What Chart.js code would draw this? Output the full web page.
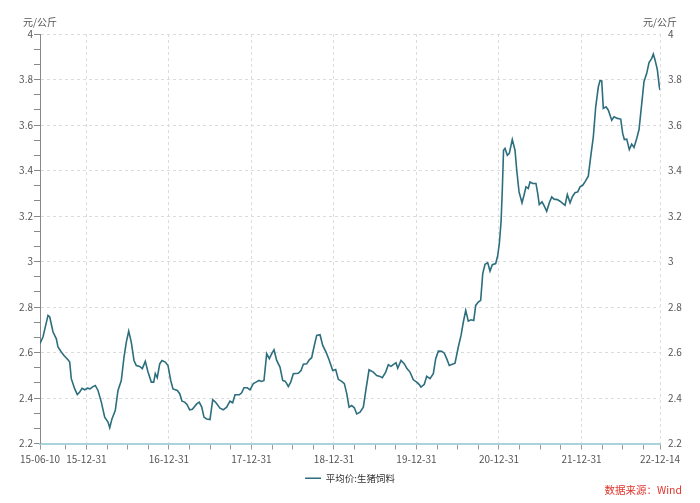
<!DOCTYPE html>
<html>
<head>
<meta charset="utf-8">
<script src="https://cdn.jsdelivr.net/npm/chart.js@4.4.0/dist/chart.umd.min.js"></script>
<style>
  html, body { margin: 0; padding: 0; background: #fff; }
</style>
</head>
<body>
<canvas id="chart" width="700" height="503"></canvas>
<script>
// time positions as fractional years
const timeYears = [
  2015.438, 2015.474, 2015.535, 2015.556, 2015.596, 2015.636, 2015.656, 2015.696, 2015.729, 2015.777,
  2015.798, 2015.817, 2015.859, 2015.890, 2015.919, 2015.947, 2015.980, 2016.011, 2016.044, 2016.080,
  2016.108, 2016.141, 2016.181, 2016.222, 2016.262, 2016.283, 2016.310, 2016.350, 2016.383, 2016.423,
  2016.456, 2016.484, 2016.513, 2016.544, 2016.577, 2016.605, 2016.646, 2016.678, 2016.714, 2016.747,
  2016.787, 2016.816, 2016.835, 2016.859, 2016.889, 2016.916, 2016.956, 2016.989, 2017.022, 2017.050,
  2017.102, 2017.131, 2017.159, 2017.192, 2017.219, 2017.252, 2017.284, 2017.337, 2017.368, 2017.398,
  2017.425, 2017.458, 2017.498, 2017.531, 2017.571, 2017.619, 2017.659, 2017.700, 2017.740, 2017.773,
  2017.801, 2017.853, 2017.882, 2017.910, 2017.950, 2017.983, 2018.023, 2018.056, 2018.092, 2018.125,
  2018.152, 2018.185, 2018.217, 2018.246, 2018.274, 2018.306, 2018.346, 2018.379, 2018.407, 2018.428,
  2018.447, 2018.476, 2018.508, 2018.568, 2018.601, 2018.629, 2018.670, 2018.701, 2018.730, 2018.758,
  2018.791, 2018.831, 2018.864, 2018.904, 2018.944, 2018.985, 2019.021, 2019.053, 2019.094, 2019.126,
  2019.155, 2019.183, 2019.215, 2019.247, 2019.276, 2019.316, 2019.356, 2019.389, 2019.425, 2019.477,
  2019.518, 2019.558, 2019.586, 2019.627, 2019.659, 2019.691, 2019.731, 2019.752, 2019.773, 2019.813,
  2019.853, 2019.885, 2019.922, 2019.962, 2020.003, 2020.031, 2020.055, 2020.095, 2020.124, 2020.164,
  2020.204, 2020.233, 2020.265, 2020.306, 2020.337, 2020.366, 2020.398, 2020.434, 2020.467, 2020.507,
  2020.540, 2020.568, 2020.597, 2020.628, 2020.661, 2020.694, 2020.718, 2020.749, 2020.778, 2020.803,
  2020.831, 2020.863, 2020.891, 2020.919, 2020.960, 2020.985, 2021.004, 2021.025, 2021.040, 2021.055,
  2021.073, 2021.101, 2021.125, 2021.161, 2021.194, 2021.215, 2021.243, 2021.279, 2021.303, 2021.327,
  2021.355, 2021.376, 2021.408, 2021.448, 2021.469, 2021.488, 2021.521, 2021.545, 2021.578, 2021.610,
  2021.639, 2021.667, 2021.707, 2021.739, 2021.772, 2021.800, 2021.828, 2021.861, 2021.888, 2021.921,
  2021.954, 2021.982, 2022.014, 2022.042, 2022.082, 2022.111, 2022.143, 2022.172, 2022.204, 2022.224,
  2022.245, 2022.264, 2022.297, 2022.325, 2022.366, 2022.394, 2022.434, 2022.475, 2022.499, 2022.519,
  2022.548, 2022.579, 2022.608, 2022.636, 2022.669, 2022.697, 2022.730, 2022.757, 2022.790, 2022.818,
  2022.851, 2022.870, 2022.891, 2022.919, 2022.943, 2022.951
];

// 平均价:生猪饲料 (元/公斤)
const feedPrice = [
  2.640, 2.668, 2.763, 2.756, 2.690, 2.660, 2.624, 2.602, 2.587, 2.568,
  2.558, 2.485, 2.440, 2.415, 2.426, 2.443, 2.436, 2.443, 2.440, 2.450,
  2.455, 2.433, 2.382, 2.316, 2.294, 2.269, 2.308, 2.345, 2.433, 2.477,
  2.580, 2.646, 2.694, 2.646, 2.565, 2.543, 2.539, 2.529, 2.561, 2.514,
  2.470, 2.470, 2.507, 2.489, 2.550, 2.565, 2.558, 2.543, 2.477, 2.440,
  2.433, 2.419, 2.386, 2.382, 2.372, 2.348, 2.350, 2.374, 2.382, 2.360,
  2.316, 2.308, 2.305, 2.393, 2.379, 2.355, 2.348, 2.360, 2.386, 2.379,
  2.414, 2.414, 2.423, 2.445, 2.445, 2.436, 2.463, 2.470, 2.477, 2.473,
  2.477, 2.595, 2.573, 2.595, 2.612, 2.565, 2.536, 2.477, 2.474, 2.463,
  2.450, 2.470, 2.507, 2.509, 2.521, 2.548, 2.550, 2.568, 2.577, 2.624,
  2.675, 2.678, 2.631, 2.602, 2.565, 2.521, 2.525, 2.482, 2.473, 2.463,
  2.419, 2.360, 2.367, 2.357, 2.330, 2.338, 2.360, 2.440, 2.524, 2.514,
  2.499, 2.495, 2.489, 2.514, 2.546, 2.539, 2.550, 2.555, 2.531, 2.565,
  2.550, 2.529, 2.514, 2.480, 2.470, 2.460, 2.448, 2.460, 2.495, 2.485,
  2.507, 2.573, 2.606, 2.605, 2.597, 2.573, 2.543, 2.548, 2.553, 2.624,
  2.675, 2.734, 2.785, 2.738, 2.744, 2.741, 2.807, 2.822, 2.829, 2.947,
  2.988, 2.995, 2.958, 2.986, 2.991, 3.027, 3.079, 3.174, 3.313, 3.489,
  3.497, 3.467, 3.475, 3.536, 3.489, 3.401, 3.306, 3.258, 3.291, 3.328,
  3.321, 3.350, 3.343, 3.343, 3.299, 3.250, 3.262, 3.247, 3.221, 3.258,
  3.284, 3.274, 3.272, 3.265, 3.255, 3.247, 3.294, 3.258, 3.284, 3.302,
  3.306, 3.328, 3.335, 3.350, 3.375, 3.460, 3.548, 3.680, 3.768, 3.795,
  3.794, 3.673, 3.680, 3.665, 3.621, 3.636, 3.629, 3.626, 3.563, 3.536,
  3.538, 3.492, 3.516, 3.501, 3.541, 3.580, 3.695, 3.790, 3.827, 3.874,
  3.893, 3.912, 3.886, 3.842, 3.768, 3.754
];

const xTickValues = [2015.438, 2016.0, 2017.0, 2018.0, 2019.0, 2020.0, 2021.0, 2022.0, 2022.951];
const xTickLabels = ["15-06-10", "15-12-31", "16-12-31", "17-12-31", "18-12-31", "19-12-31", "20-12-31", "21-12-31", "22-12-14"];
const xQuarterTicks = [
  2015.75, 2016.25, 2016.5, 2016.75, 2017.25, 2017.5, 2017.75, 2018.25, 2018.5, 2018.75,
  2019.25, 2019.5, 2019.75, 2020.25, 2020.5, 2020.75, 2021.25, 2021.5, 2021.75, 2022.25, 2022.5, 2022.75
];

const yTickValues = [2.2, 2.4, 2.6, 2.8, 3.0, 3.2, 3.4, 3.6, 3.8, 4.0];
const yTickLabels = ["2.2", "2.4", "2.6", "2.8", "3", "3.2", "3.4", "3.6", "3.8", "4"];
const yMinorPerStep = 3;

const FONT = '"Noto Sans CJK SC", "Noto Sans", sans-serif';
const LINE_COLOR = "#2c6e7d";
const GRID_COLOR = "#dcdcdc";

function findIndex(list, value) {
  return list.findIndex(v => Math.abs(v - value) < 1e-6);
}

function yTicksWithMinor() {
  const all = [];
  yTickValues.forEach((v, i) => {
    all.push(v);
    if (i < yTickValues.length - 1) {
      const step = (yTickValues[i + 1] - v) / yMinorPerStep;
      for (let k = 1; k < yMinorPerStep; k++) all.push(v + step * k);
    }
  });
  return all;
}

const points = timeYears.map((t, i) => ({ x: t, y: feedPrice[i] }));

const extraText = {
  id: "extraText",
  afterDraw(chart) {
    const ctx = chart.ctx;
    const area = chart.chartArea;
    ctx.save();
    ctx.font = `10px ${FONT}`;
    ctx.fillStyle = "#555";
    ctx.textAlign = "center";
    ctx.textBaseline = "middle";
    ctx.fillText("元/公斤", area.left, 22);
    ctx.fillText("元/公斤", area.right, 22);
    ctx.font = `10.5px ${FONT}`;
    ctx.fillStyle = "#e0352b";
    ctx.textAlign = "right";
    ctx.fillText("数据来源：Wind", 682, 490);
    ctx.restore();
  }
};

new Chart(document.getElementById("chart"), {
  type: "line",
  data: {
    datasets: [
      {
        label: "平均价:生猪饲料",
        data: points,
        borderColor: LINE_COLOR,
        backgroundColor: LINE_COLOR,
        borderWidth: 1.6,
        pointRadius: 0,
        tension: 0,
        fill: false
      }
    ]
  },
  options: {
    responsive: false,
    animation: false,
    layout: { padding: { top: 34, bottom: 10, left: 0, right: 0 } },
    plugins: {
      legend: {
        position: "bottom",
        labels: {
          usePointStyle: true,
          pointStyle: "line",
          pointStyleWidth: 16,
          color: "#333",
          font: { size: 9.5, family: FONT },
          padding: 5
        }
      },
      tooltip: { enabled: false }
    },
    scales: {
      x: {
        type: "linear",
        min: xTickValues[0],
        max: xTickValues[xTickValues.length - 1],
        afterBuildTicks: scale => {
          scale.ticks = [...xTickValues, ...xQuarterTicks].sort((a, b) => a - b).map(v => ({ value: v }));
        },
        afterFit: scale => { scale.height = scale.height - 1; },
        ticks: {
          autoSkip: false,
          maxRotation: 0,
          color: "#555",
          font: { size: 10, family: FONT },
          padding: 4,
          callback: value => {
            const i = findIndex(xTickValues, value);
            return i >= 0 ? xTickLabels[i] : "";
          }
        },
        grid: {
          color: ctx => {
            const i = findIndex(xTickValues, ctx.tick ? ctx.tick.value : NaN);
            return i > 0 ? GRID_COLOR : "rgba(0,0,0,0)";
          },
          tickColor: "#999",
          tickLength: 6,
          tickBorderDash: []
        },
        border: { color: "#a8d3dc", width: 2, dash: [3, 3] }
      },
      y: {
        type: "linear",
        position: "left",
        min: 2.2,
        max: 4,
        afterBuildTicks: scale => {
          scale.ticks = yTicksWithMinor().map(v => ({ value: v }));
        },
        afterFit: scale => { scale.width = 40; },
        ticks: {
          autoSkip: false,
          color: "#555",
          font: { size: 10, family: FONT },
          padding: 1,
          callback: value => {
            const i = findIndex(yTickValues, value);
            return i >= 0 ? yTickLabels[i] : "";
          }
        },
        grid: {
          color: ctx => {
            const i = findIndex(yTickValues, ctx.tick ? ctx.tick.value : NaN);
            return i >= 0 ? GRID_COLOR : "rgba(0,0,0,0)";
          },
          tickColor: "#888",
          tickLength: 6,
          tickBorderDash: []
        },
        border: { color: "#888", width: 1, dash: [3, 3] }
      },
      y2: {
        type: "linear",
        position: "right",
        min: 2.2,
        max: 4,
        afterBuildTicks: scale => {
          scale.ticks = yTickValues.map(v => ({ value: v }));
        },
        afterFit: scale => { scale.width = 40; },
        ticks: {
          autoSkip: false,
          color: "#555",
          font: { size: 10, family: FONT },
          padding: 8,
          callback: value => {
            const i = findIndex(yTickValues, value);
            return i >= 0 ? yTickLabels[i] : "";
          }
        },
        grid: { drawOnChartArea: false, drawTicks: false },
        border: { display: false }
      }
    }
  },
  plugins: [extraText]
});
</script>
</body>
</html>
